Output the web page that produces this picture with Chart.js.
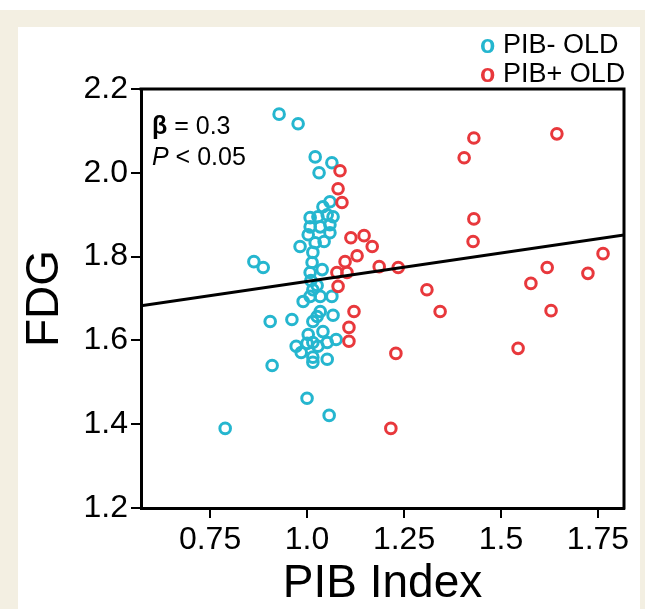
<!DOCTYPE html>
<html>
<head>
<meta charset="utf-8">
<script src="https://cdn.jsdelivr.net/npm/chart.js@4/dist/chart.umd.min.js"></script>
<style>
  html, body { margin: 0; padding: 0; background: #fff; }
  #frame { position: absolute; left: 0; top: 10px; width: 645px; height: 599px; background: #f3efe2; }
  #panel { position: absolute; left: 18px; top: 27px; width: 622px; height: 582px; background: #fff; }
  #plot { position: absolute; left: 0; top: 0; }
</style>
</head>
<body>
<div id="frame"></div>
<div id="panel"></div>
<canvas id="plot" width="645" height="609"></canvas>
<script>
// PIB- OLD group
const pibNegX = [0.928, 0.977, 1.021, 1.064, 1.031, 1.059, 1.041, 1.008, 1.028, 1.052,
                 1.067, 1.008, 1.034, 1.059, 1.003, 1.059, 1.021, 1.044, 0.982, 1.015,
                 1.013, 1.039, 1.008, 0.863, 0.887, 1.010, 1.026, 1.015, 0.990, 1.008,
                 1.034, 1.064, 1.034, 1.026, 1.015, 1.067, 0.905, 0.961, 1.003, 1.041,
                 1.075, 0.972, 0.985, 1.000, 1.015, 1.028, 1.052, 1.015, 1.015, 1.052,
                 0.910, 1.000, 1.057, 0.789];
const pibNegY = [2.140, 2.117, 2.038, 2.024, 2.000, 1.931, 1.919, 1.893, 1.895, 1.900,
                 1.895, 1.871, 1.871, 1.876, 1.852, 1.857, 1.833, 1.836, 1.824, 1.810,
                 1.786, 1.769, 1.762, 1.788, 1.774, 1.743, 1.731, 1.721, 1.693, 1.705,
                 1.705, 1.705, 1.669, 1.657, 1.645, 1.660, 1.645, 1.650, 1.614, 1.621,
                 1.602, 1.586, 1.571, 1.593, 1.595, 1.586, 1.595, 1.560, 1.548, 1.555,
                 1.540, 1.462, 1.421, 1.390];

// PIB+ OLD group
const pibPosX = [1.085, 1.080, 1.090, 1.113, 1.147, 1.168, 1.098, 1.129, 1.077, 1.103,
                 1.186, 1.235, 1.080, 1.309, 1.430, 1.405, 1.644, 1.430, 1.428, 1.577,
                 1.619, 1.724, 1.763, 1.121, 1.343, 1.629, 1.108, 1.108, 1.229, 1.544,
                 1.216];
const pibPosY = [2.005, 1.962, 1.929, 1.845, 1.850, 1.824, 1.788, 1.802, 1.762, 1.762,
                 1.776, 1.774, 1.729, 1.721, 2.083, 2.036, 2.093, 1.890, 1.836, 1.736,
                 1.774, 1.760, 1.807, 1.669, 1.669, 1.671, 1.631, 1.598, 1.569, 1.581,
                 1.390];

const xTicks = [0.75, 1.0, 1.25, 1.5, 1.75];
const xTickLabels = ['0.75', '1.0', '1.25', '1.5', '1.75'];
const yTicks = [1.2, 1.4, 1.6, 1.8, 2.0, 2.2];
const xRange = [0.572, 1.817];
const yRange = [1.2, 2.2];

// fitted line across both groups
const fitIntercept = 1.6055;
const fitSlope = 0.1354;
const betaText = '0.3';
const pText = '0.05';

const cyan = '#25b6cf';
const red = '#e8383c';
const fontFamily = "'Liberation Sans', Arial, sans-serif";
const tickFont = { family: fontFamily, size: 32 };

function toPoints(xs, ys) {
  return xs.map((x, i) => ({ x: x, y: ys[i] }));
}

const fitPoints = xRange.map(x => ({ x: x, y: fitIntercept + fitSlope * x }));

// top and right sides of the box, plus the stats text and legend
const extras = {
  id: 'extras',
  afterDraw(chart) {
    const { ctx, chartArea } = chart;
    ctx.save();
    ctx.strokeStyle = '#000';
    ctx.lineWidth = 3;
    ctx.beginPath();
    ctx.moveTo(chartArea.left - 1.5, chartArea.top);
    ctx.lineTo(chartArea.right, chartArea.top);
    ctx.lineTo(chartArea.right, chartArea.bottom + 1.5);
    ctx.stroke();

    ctx.fillStyle = '#000';
    ctx.textBaseline = 'alphabetic';
    ctx.font = 'bold 25px ' + fontFamily;
    ctx.fillText('\u03b2', 152, 134);
    let w = ctx.measureText('\u03b2').width;
    ctx.font = '25px ' + fontFamily;
    ctx.fillText(' = ' + betaText, 152 + w, 134);
    ctx.font = 'italic 25px ' + fontFamily;
    ctx.fillText('P', 152, 165);
    w = ctx.measureText('P').width;
    ctx.font = '25px ' + fontFamily;
    ctx.fillText(' < ' + pText, 152 + w, 165);

    // legend
    const items = chart.data.datasets.filter(d => d.label);
    items.forEach((d, i) => {
      const y = 53 + i * 29;
      ctx.font = 'bold 25px ' + fontFamily;
      ctx.fillStyle = d.borderColor;
      ctx.fillText('o', 480, y);
      ctx.font = '27px ' + fontFamily;
      ctx.fillStyle = '#000';
      ctx.fillText(d.label, 503, y);
    });
    ctx.restore();
  }
};

new Chart(document.getElementById('plot'), {
  type: 'scatter',
  data: {
    datasets: [
      {
        label: 'PIB- OLD',
        data: toPoints(pibNegX, pibNegY),
        borderColor: cyan,
        backgroundColor: 'rgba(0,0,0,0)',
        pointRadius: 5.3,
        pointBorderWidth: 3,
        order: 2
      },
      {
        label: 'PIB+ OLD',
        data: toPoints(pibPosX, pibPosY),
        borderColor: red,
        backgroundColor: 'rgba(0,0,0,0)',
        pointRadius: 5.3,
        pointBorderWidth: 3,
        order: 1
      },
      {
        type: 'line',
        label: '',
        data: fitPoints,
        borderColor: '#000',
        borderWidth: 3,
        pointRadius: 0,
        fill: false,
        order: 0
      }
    ]
  },
  options: {
    responsive: false,
    animation: false,
    devicePixelRatio: 1,
    layout: { padding: { left: 0, top: 89, right: 21, bottom: 0 } },
    plugins: { legend: { display: false }, tooltip: { enabled: false } },
    scales: {
      x: {
        type: 'linear',
        min: xRange[0],
        max: xRange[1],
        afterBuildTicks: (scale) => { scale.ticks = xTicks.map(v => ({ value: v })); },
        afterFit: (scale) => { scale.height = 101; },
        grid: { drawOnChartArea: false, drawTicks: true, tickLength: 10, color: '#000', lineWidth: 2 },
        border: { display: true, color: '#000', width: 3 },
        ticks: {
          font: tickFont,
          color: '#000',
          padding: 3,
          maxRotation: 0,
          callback: (v) => xTickLabels[xTicks.indexOf(v)]
        },
        title: {
          display: true,
          text: 'PIB Index',
          color: '#000',
          font: { family: fontFamily, size: 46, lineHeight: 1 },
          padding: { top: 0, bottom: 2 }
        }
      },
      y: {
        type: 'linear',
        min: yRange[0],
        max: yRange[1],
        afterBuildTicks: (scale) => { scale.ticks = yTicks.map(v => ({ value: v })); },
        afterFit: (scale) => { scale.width = 141; },
        grid: { drawOnChartArea: false, drawTicks: true, tickLength: 10, color: '#000', lineWidth: 2 },
        border: { display: true, color: '#000', width: 3 },
        ticks: {
          font: tickFont,
          color: '#000',
          padding: 3,
          callback: (v) => v.toFixed(1)
        },
        title: {
          display: true,
          text: 'FDG',
          color: '#000',
          font: { family: fontFamily, size: 46, lineHeight: 1 },
          padding: { top: 22, bottom: 0 }
        }
      }
    }
  },
  plugins: [extras]
});
</script>
</body>
</html>
